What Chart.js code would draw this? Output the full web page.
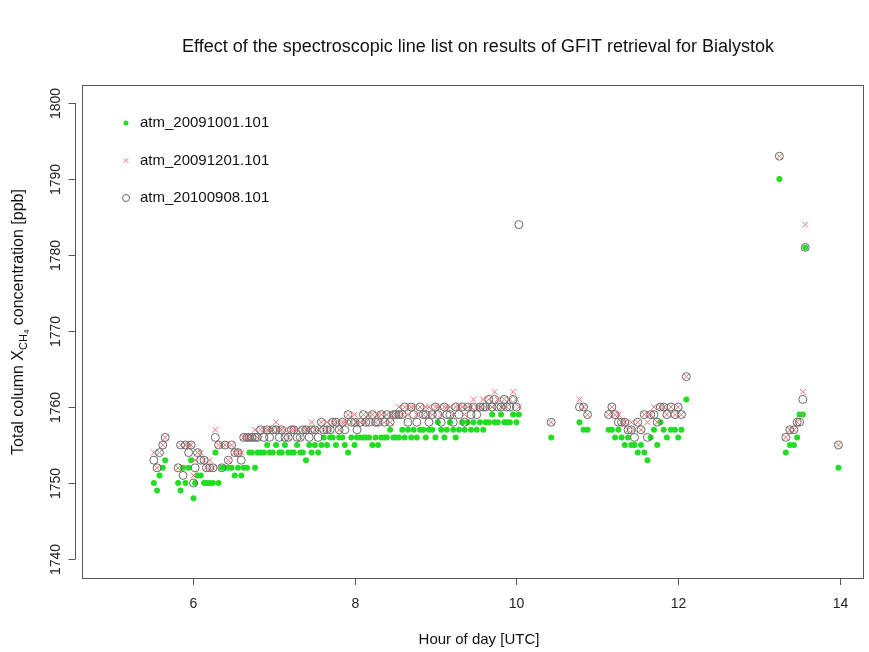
<!DOCTYPE html>
<html>
<head>
<meta charset="utf-8">
<script src="https://cdn.jsdelivr.net/npm/chart.js@4.4.1/dist/chart.umd.min.js"></script>
<style>
html, body { margin: 0; padding: 0; background: #fff; }
#wrap { width: 869px; height: 652px; }
</style>
</head>
<body>
<div id="wrap"><canvas id="chart" width="869" height="652"></canvas></div>
<script>
// hour of day (UTC) of every spectrum, shared by the three retrievals
const hours = [
  5.52, 5.56, 5.59, 5.63, 5.66,
  5.82, 5.85, 5.88, 5.91, 5.95, 5.98, 6.01, 6.03,
  6.06, 6.10, 6.14, 6.17, 6.21, 6.25, 6.28, 6.32, 6.36, 6.40, 6.44, 6.48, 6.52, 6.56, 6.60, 6.63, 6.67, 6.70,
  6.73, 6.77, 6.80, 6.84, 6.88, 6.92, 6.95, 6.99, 7.03, 7.07, 7.10, 7.14, 7.18, 7.22, 7.25, 7.29, 7.33, 7.36, 7.40, 7.44,
  7.47, 7.51, 7.55, 7.59, 7.62, 7.66, 7.70, 7.73, 7.77, 7.81, 7.85, 7.88, 7.92, 7.96, 8.00, 8.03, 8.07, 8.11, 8.14, 8.18,
  8.22, 8.26, 8.29, 8.33, 8.37, 8.40, 8.44, 8.48, 8.51, 8.55, 8.59, 8.62, 8.66, 8.70, 8.73, 8.77, 8.81, 8.85, 8.88, 8.92,
  8.96, 9.00, 9.03, 9.07, 9.11, 9.14, 9.18, 9.22, 9.25, 9.29, 9.33, 9.36, 9.40, 9.44, 9.47, 9.51, 9.55, 9.59, 9.62, 9.66,
  9.70, 9.73, 9.77, 9.81, 9.85, 9.88, 9.92, 9.96, 10.00, 10.03,
  10.43, 10.78, 10.83, 10.88,
  11.14, 11.18, 11.22, 11.26, 11.30, 11.34, 11.38, 11.42, 11.46, 11.50, 11.54, 11.58, 11.62, 11.66, 11.70, 11.74,
  11.78, 11.82, 11.86, 11.91, 11.96, 12.00, 12.04, 12.10,
  13.25, 13.33, 13.38, 13.43, 13.47, 13.50, 13.54, 13.57, 13.98
];

// XCH4 [ppb] per line list
const atm091001 = [
  1750, 1749, 1751, 1752, 1753,
  1750, 1749, 1752, 1750, 1752, 1753, 1748, 1750,
  1751, 1751, 1750, 1750, 1750, 1750, 1754, 1750, 1752, 1752, 1752, 1752, 1751, 1752, 1751, 1752, 1752, 1754,
  1754, 1752, 1754, 1754, 1754, 1755, 1754, 1754, 1755, 1754, 1754, 1755, 1754, 1754, 1754, 1755, 1754, 1754, 1753, 1755,
  1754, 1755, 1754, 1755, 1756, 1755, 1756, 1756, 1755, 1756, 1756, 1755, 1754, 1756, 1755, 1756, 1756, 1756, 1756, 1756,
  1755, 1756, 1755, 1756, 1756, 1756, 1757, 1756, 1756, 1756, 1757, 1756, 1757, 1756, 1757, 1756, 1757, 1757, 1756, 1757,
  1757, 1756, 1758, 1757, 1756, 1757, 1758, 1757, 1756, 1757, 1758, 1757, 1758, 1757, 1758, 1757, 1758, 1757, 1758, 1758,
  1759, 1758, 1758, 1759, 1758, 1758, 1758, 1759, 1758, 1759,
  1756, 1758, 1757, 1757,
  1757, 1757, 1756, 1757, 1756, 1755, 1756, 1755, 1755, 1754, 1755, 1754, 1753, 1756, 1757, 1755,
  1758, 1757, 1756, 1757, 1757, 1756, 1757, 1761,
  1790, 1754, 1755, 1755, 1756, 1759, 1759, 1781, 1752
];
const atm091201 = [
  1754, 1752, 1754, 1755, 1756,
  1752, 1755, 1752, 1755, 1755, 1755, 1751, 1753,
  1754, 1754, 1753, 1752, 1753, 1752, 1757, 1755, 1755, 1755, 1753, 1755, 1754, 1754, 1754, 1756, 1756, 1756,
  1756, 1757, 1756, 1757, 1757, 1757, 1757, 1757, 1758, 1757, 1757, 1757, 1756, 1757, 1757, 1757, 1756, 1757, 1757, 1757,
  1758, 1757, 1757, 1758, 1757, 1758, 1757, 1758, 1758, 1757, 1758, 1758, 1759, 1758, 1759, 1758, 1758, 1759, 1758, 1759,
  1759, 1758, 1759, 1759, 1758, 1759, 1758, 1759, 1759, 1760, 1759, 1760, 1759, 1760, 1760, 1759, 1760, 1759, 1760, 1760,
  1759, 1760, 1760, 1759, 1760, 1760, 1760, 1759, 1760, 1760, 1760, 1759, 1760, 1760, 1761, 1760, 1760, 1761, 1760, 1761,
  1760, 1762, 1761, 1760, 1761, 1760, 1761, 1762, 1761, 1760,
  1758, 1761, 1760, 1759,
  1759, 1760, 1759, 1759, 1758, 1758, 1757, 1758, 1757, 1758, 1757, 1759, 1758, 1759, 1760, 1758,
  1760, 1760, 1759, 1760, 1759, 1760, 1759, 1764,
  1793, 1756, 1757, 1757, 1758, 1759, 1762, 1784, 1755
];
const atm100908 = [
  1753, 1752, 1754, 1755, 1756,
  1752, 1755, 1751, 1755, 1754, 1755, 1750, 1752,
  1754, 1753, 1753, 1752, 1752, 1752, 1756, 1755, 1752, 1755, 1753, 1755, 1754, 1754, 1753, 1756, 1756, 1756,
  1756, 1756, 1756, 1757, 1756, 1757, 1756, 1757, 1757, 1756, 1757, 1756, 1756, 1757, 1757, 1756, 1756, 1757, 1757, 1756,
  1757, 1757, 1756, 1758, 1757, 1757, 1757, 1758, 1758, 1757, 1758, 1757, 1759, 1758, 1758, 1757, 1758, 1759, 1758, 1758,
  1759, 1758, 1758, 1759, 1758, 1759, 1758, 1759, 1759, 1759, 1759, 1760, 1758, 1760, 1759, 1758, 1760, 1759, 1759, 1758,
  1759, 1760, 1759, 1758, 1760, 1759, 1759, 1758, 1760, 1759, 1760, 1758, 1760, 1759, 1760, 1759, 1760, 1760, 1760, 1761,
  1760, 1761, 1760, 1760, 1761, 1760, 1760, 1761, 1760, 1784,
  1758, 1760, 1760, 1759,
  1759, 1760, 1759, 1758, 1758, 1758, 1757, 1757, 1756, 1758, 1757, 1759, 1756, 1759, 1759, 1758,
  1760, 1760, 1759, 1760, 1759, 1760, 1759, 1764,
  1793, 1756, 1757, 1757, 1758, 1758, 1761, 1781, 1755
];

const seriesNames = ['atm_20091001.101', 'atm_20091201.101', 'atm_20100908.101'];
const xTicks = [6, 8, 10, 12, 14];
const yTicks = [1740, 1750, 1760, 1770, 1780, 1790, 1800];

const FONT = '"Liberation Sans", Arial, sans-serif';

function toPoints(values) {
    return hours.map((h, i) => ({ x: h, y: values[i] }));
}

// R-like frame, axes, titles and legend
const rDecor = {
    id: 'rDecor',
    afterDraw(chart) {
        const ctx = chart.ctx;
        const area = chart.chartArea;
        const xs = chart.scales.x;
        const ys = chart.scales.y;
        ctx.save();

        // plot box
        ctx.strokeStyle = '#555';
        ctx.lineWidth = 1;
        ctx.strokeRect(area.left + 0.5, area.top + 0.5, area.right - area.left - 1, area.bottom - area.top);

        ctx.fillStyle = '#222';
        ctx.font = '14px ' + FONT;

        // x axis
        ctx.textAlign = 'center';
        ctx.textBaseline = 'middle';
        xTicks.forEach(t => {
            const px = Math.round(xs.getPixelForValue(t)) + 0.5;
            ctx.beginPath();
            ctx.moveTo(px, area.bottom);
            ctx.lineTo(px, area.bottom + 7);
            ctx.stroke();
            ctx.fillText(String(t), px, area.bottom + 26);
        });

        // y axis, drawn a little off the box
        const axX = area.left - 6.5;
        ctx.beginPath();
        ctx.moveTo(axX, ys.getPixelForValue(yTicks[0]));
        ctx.lineTo(axX, ys.getPixelForValue(yTicks[yTicks.length - 1]));
        ctx.stroke();
        yTicks.forEach(t => {
            const py = Math.round(ys.getPixelForValue(t)) + 0.5;
            ctx.beginPath();
            ctx.moveTo(axX, py);
            ctx.lineTo(axX - 7, py);
            ctx.stroke();
            ctx.save();
            ctx.translate(axX - 19, py);
            ctx.rotate(-Math.PI / 2);
            ctx.fillText(String(t), 0, 0);
            ctx.restore();
        });

        // title
        ctx.fillStyle = '#111';
        ctx.font = '18px ' + FONT;
        ctx.fillText('Effect of the spectroscopic line list on results of GFIT retrieval for Bialystok', 478, 47);

        // x title
        ctx.font = '15px ' + FONT;
        ctx.fillText('Hour of day [UTC]', 479, 640);

        // y title with X_CH4 subscript
        const parts = [
            { t: 'Total column X', f: '16px ' + FONT, dy: 0 },
            { t: 'CH', f: '11px ' + FONT, dy: 5 },
            { t: '4', f: '8px ' + FONT, dy: 8 },
            { t: ' concentration [ppb]', f: '16px ' + FONT, dy: 0 }
        ];
        let total = 0;
        parts.forEach(p => { ctx.font = p.f; p.w = ctx.measureText(p.t).width; total += p.w; });
        ctx.save();
        ctx.translate(19, 322);
        ctx.rotate(-Math.PI / 2);
        ctx.textAlign = 'left';
        let cx = -total / 2;
        parts.forEach(p => {
            ctx.font = p.f;
            ctx.fillText(p.t, cx, p.dy);
            cx += p.w;
        });
        ctx.restore();

        // legend inside plot
        ctx.textAlign = 'left';
        ctx.font = '15px ' + FONT;
        chart.data.datasets.forEach((ds, i) => {
            const ly = 123 + i * 37.5;
            ctx.save();
            ctx.fillStyle = ds.backgroundColor;
            ctx.strokeStyle = ds.borderColor;
            ctx.lineWidth = ds.borderWidth;
            Chart.helpers.drawPoint(ctx, {
                pointStyle: ds.pointStyle,
                radius: i === 0 ? 2.5 : 3.5,
                rotation: 0,
                borderWidth: ds.borderWidth
            }, 126, ly);
            ctx.restore();
            ctx.fillStyle = '#111';
            ctx.fillText(seriesNames[i], 140, ly);
        });

        ctx.restore();
    }
};

new Chart(document.getElementById('chart'), {
    type: 'scatter',
    data: {
        datasets: [
            {
                label: seriesNames[0],
                data: toPoints(atm091001),
                pointStyle: 'circle',
                pointRadius: 3,
                backgroundColor: '#22dd22',
                borderColor: '#22dd22',
                borderWidth: 0,
                order: 3
            },
            {
                label: seriesNames[1],
                data: toPoints(atm091201),
                pointStyle: 'crossRot',
                pointRadius: 4,
                backgroundColor: '#ee7070',
                borderColor: '#ee7070',
                borderWidth: 1,
                order: 2
            },
            {
                label: seriesNames[2],
                data: toPoints(atm100908),
                pointStyle: 'circle',
                pointRadius: 4,
                backgroundColor: 'rgba(0,0,0,0)',
                borderColor: '#6a6a6a',
                borderWidth: 1,
                order: 1
            }
        ]
    },
    options: {
        responsive: false,
        animation: false,
        events: [],
        layout: { padding: { left: 82, right: 3, top: 85, bottom: 74 } },
        plugins: {
            legend: { display: false },
            tooltip: { enabled: false },
            title: { display: false }
        },
        scales: {
            x: { type: 'linear', display: false, min: 4.632, max: 14.296 },
            y: { type: 'linear', display: false, min: 1737.5, max: 1802.37 }
        }
    },
    plugins: [rDecor]
});
</script>
</body>
</html>
